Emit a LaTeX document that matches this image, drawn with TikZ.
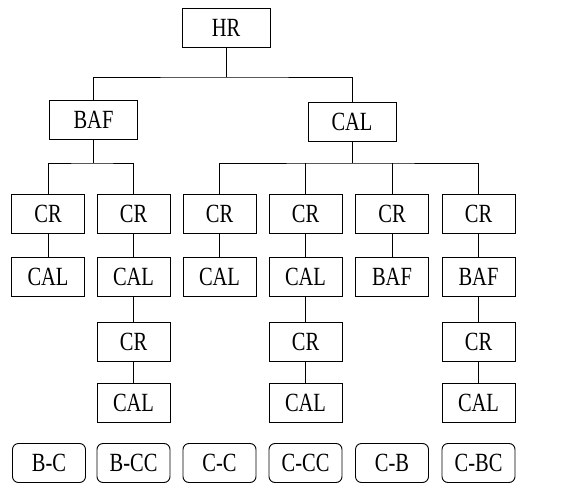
\documentclass[tikz,border=0pt]{standalone}
\usepackage{fontspec}
\setmainfont{Liberation Serif}
\newcommand{\vtx}[1]{\scalebox{1}[1.28]{#1}}
\begin{document}
\begin{tikzpicture}[x=1pt,y=-1pt,
  box/.style={draw,line width=0.9pt,minimum width=73pt,minimum height=39pt,inner sep=0pt,font=\fontsize{20.5}{22}\selectfont},
  wbox/.style={box,minimum width=88pt},
  rbox/.style={box,rounded corners=6pt},
  link/.style={line width=0.9pt}]
\useasboundingbox (0,0) rectangle (561,494);
\node[wbox] (hr) at (226,27.5) {\vtx{HR}};
\node[wbox] (baf) at (93.5,119.5) {\vtx{BAF}};
\node[wbox] (cal) at (352,121.5) {\vtx{CAL}};
% CR row
\foreach \i/\x in {1/48,2/133.5,3/219.5,4/305.5,5/392,6/478.5}{
  \node[box] (cr\i) at (\x,214) {\vtx{CR}};
}
\node[box] (b1) at (48,277) {\vtx{CAL}};
\node[box] (b2) at (133.5,277) {\vtx{CAL}};
\node[box] (b3) at (219.5,277) {\vtx{CAL}};
\node[box] (b4) at (305.5,277) {\vtx{CAL}};
\node[box] (b5) at (392,277) {\vtx{BAF}};
\node[box] (b6) at (478.5,277) {\vtx{BAF}};
\node[box] (c2) at (133.5,341.5) {\vtx{CR}};
\node[box] (c4) at (305.5,341.5) {\vtx{CR}};
\node[box] (c6) at (478.5,341.5) {\vtx{CR}};
\node[box] (d2) at (133.5,402.5) {\vtx{CAL}};
\node[box] (d4) at (305.5,402.5) {\vtx{CAL}};
\node[box] (d6) at (478.5,402.5) {\vtx{CAL}};
\node[rbox] (e1) at (49,463) {\vtx{B-C}};
\node[rbox] (e2) at (133.5,463) {\vtx{B-CC}};
\node[rbox] (e3) at (219.5,463) {\vtx{C-C}};
\node[rbox] (e4) at (305.5,463) {\vtx{C-CC}};
\node[rbox] (e5) at (392,463) {\vtx{C-B}};
\node[rbox] (e6) at (478.5,463) {\vtx{C-BC}};
% connectors
\coordinate (j0) at (226,77);
\draw[link] (hr.south) -- (j0);
\draw[link] (baf.north) |- (j0) -| (cal.north);
\coordinate (j1) at (93.5,163);
\draw[link] (baf.south) -- (j1);
\draw[link] (cr1.north) |- (j1) -| (cr2.north);
\coordinate (j2) at (352,163);
\draw[link] (cal.south) -- (j2);
\draw[link] (cr3.north) |- (j2) -| (cr6.north);
\draw[link] (cr4.north) -- (cr4.north |- j2);
\draw[link] (cr5.north) -- (cr5.north |- j2);
\foreach \i in {1,...,6}{\draw[link] (cr\i) -- (b\i);}
\draw[link] (b2) -- (c2) -- (d2);
\draw[link] (b4) -- (c4) -- (d4);
\draw[link] (b6) -- (c6) -- (d6);
\end{tikzpicture}
\end{document}
